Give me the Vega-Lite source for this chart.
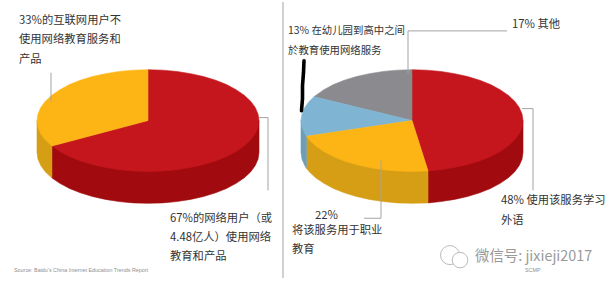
{"$schema":"https://vega.github.io/schema/vega-lite/v6.json","width":612,"height":285,"autosize":{"type":"fit","contains":"padding"},"padding":0,"background":"white","view":{"stroke":null},"config":{"view":{"stroke":null}},
"datasets":{
"shapes":[
{"s":"L wall red","i":0,"x":259,"y":120},{"s":"L wall red","i":1,"x":259,"y":152},{"s":"L wall red","i":2,"x":258,"y":158.7},{"s":"L wall red","i":3,"x":255.2,"y":165.2},{"s":"L wall red","i":4,"x":250.6,"y":171.5},{"s":"L wall red","i":5,"x":244.1,"y":177.5},{"s":"L wall red","i":6,"x":236.1,"y":183},{"s":"L wall red","i":7,"x":226.5,"y":188.1},{"s":"L wall red","i":8,"x":215.6,"y":192.5},{"s":"L wall red","i":9,"x":203.5,"y":196.2},{"s":"L wall red","i":10,"x":190.5,"y":199.1},{"s":"L wall red","i":11,"x":176.7,"y":201.3},{"s":"L wall red","i":12,"x":162.5,"y":202.6},{"s":"L wall red","i":13,"x":148,"y":203},{"s":"L wall red","i":14,"x":133.5,"y":202.6},{"s":"L wall red","i":15,"x":119.3,"y":201.3},{"s":"L wall red","i":16,"x":105.5,"y":199.1},{"s":"L wall red","i":17,"x":92.5,"y":196.2},{"s":"L wall red","i":18,"x":80.4,"y":192.5},{"s":"L wall red","i":19,"x":69.5,"y":188.1},{"s":"L wall red","i":20,"x":59.9,"y":183},{"s":"L wall red","i":21,"x":51.9,"y":177.5},{"s":"L wall red","i":22,"x":51.9,"y":145.5},
{"s":"L wall orange","i":0,"x":37,"y":120},{"s":"L wall orange","i":1,"x":37,"y":152},{"s":"L wall orange","i":2,"x":38,"y":158.7},{"s":"L wall orange","i":3,"x":40.8,"y":165.2},{"s":"L wall orange","i":4,"x":45.4,"y":171.5},{"s":"L wall orange","i":5,"x":51.9,"y":177.5},{"s":"L wall orange","i":6,"x":51.9,"y":145.5},
{"s":"L top red","i":0,"x":259,"y":120},{"s":"L top red","i":1,"x":258,"y":126.7},{"s":"L top red","i":2,"x":255.2,"y":133.2},{"s":"L top red","i":3,"x":250.6,"y":139.5},{"s":"L top red","i":4,"x":244.1,"y":145.5},{"s":"L top red","i":5,"x":236.1,"y":151},{"s":"L top red","i":6,"x":226.5,"y":156.1},{"s":"L top red","i":7,"x":215.6,"y":160.5},{"s":"L top red","i":8,"x":203.5,"y":164.2},{"s":"L top red","i":9,"x":190.5,"y":167.1},{"s":"L top red","i":10,"x":176.7,"y":169.3},{"s":"L top red","i":11,"x":162.5,"y":170.6},{"s":"L top red","i":12,"x":148,"y":171},{"s":"L top red","i":13,"x":133.5,"y":170.6},{"s":"L top red","i":14,"x":119.3,"y":169.3},{"s":"L top red","i":15,"x":105.5,"y":167.1},{"s":"L top red","i":16,"x":92.5,"y":164.2},{"s":"L top red","i":17,"x":80.4,"y":160.5},{"s":"L top red","i":18,"x":69.5,"y":156.1},{"s":"L top red","i":19,"x":59.9,"y":151},{"s":"L top red","i":20,"x":51.9,"y":145.5},{"s":"L top red","i":21,"x":148,"y":120},{"s":"L top red","i":22,"x":148,"y":69},{"s":"L top red","i":23,"x":162.5,"y":69.4},{"s":"L top red","i":24,"x":176.7,"y":70.7},{"s":"L top red","i":25,"x":190.5,"y":72.9},{"s":"L top red","i":26,"x":203.5,"y":75.8},{"s":"L top red","i":27,"x":215.6,"y":79.5},{"s":"L top red","i":28,"x":226.5,"y":83.9},{"s":"L top red","i":29,"x":236.1,"y":89},{"s":"L top red","i":30,"x":244.1,"y":94.5},{"s":"L top red","i":31,"x":250.6,"y":100.5},{"s":"L top red","i":32,"x":255.2,"y":106.8},{"s":"L top red","i":33,"x":258,"y":113.3},
{"s":"L top orange","i":0,"x":148,"y":120},{"s":"L top orange","i":1,"x":148,"y":69},{"s":"L top orange","i":2,"x":133.5,"y":69.4},{"s":"L top orange","i":3,"x":119.3,"y":70.7},{"s":"L top orange","i":4,"x":105.5,"y":72.9},{"s":"L top orange","i":5,"x":92.5,"y":75.8},{"s":"L top orange","i":6,"x":80.4,"y":79.5},{"s":"L top orange","i":7,"x":69.5,"y":83.9},{"s":"L top orange","i":8,"x":59.9,"y":89},{"s":"L top orange","i":9,"x":51.9,"y":94.5},{"s":"L top orange","i":10,"x":45.4,"y":100.5},{"s":"L top orange","i":11,"x":40.8,"y":106.8},{"s":"L top orange","i":12,"x":38,"y":113.3},{"s":"L top orange","i":13,"x":37,"y":120},{"s":"L top orange","i":14,"x":38,"y":126.7},{"s":"L top orange","i":15,"x":40.8,"y":133.2},{"s":"L top orange","i":16,"x":45.4,"y":139.5},{"s":"L top orange","i":17,"x":51.9,"y":145.5},
{"s":"R wall red","i":0,"x":523,"y":120},{"s":"R wall red","i":1,"x":523,"y":152},{"s":"R wall red","i":2,"x":522,"y":158.7},{"s":"R wall red","i":3,"x":519.2,"y":165.2},{"s":"R wall red","i":4,"x":514.6,"y":171.5},{"s":"R wall red","i":5,"x":508.1,"y":177.5},{"s":"R wall red","i":6,"x":500.1,"y":183},{"s":"R wall red","i":7,"x":490.5,"y":188.1},{"s":"R wall red","i":8,"x":479.6,"y":192.5},{"s":"R wall red","i":9,"x":467.5,"y":196.2},{"s":"R wall red","i":10,"x":454.5,"y":199.1},{"s":"R wall red","i":11,"x":440.7,"y":201.3},{"s":"R wall red","i":12,"x":428,"y":202.6},{"s":"R wall red","i":13,"x":428,"y":170.5},
{"s":"R wall orange","i":0,"x":428,"y":170.5},{"s":"R wall orange","i":1,"x":428,"y":202.6},{"s":"R wall orange","i":2,"x":412,"y":203},{"s":"R wall orange","i":3,"x":397.5,"y":202.6},{"s":"R wall orange","i":4,"x":383.3,"y":201.3},{"s":"R wall orange","i":5,"x":369.5,"y":199.1},{"s":"R wall orange","i":6,"x":356.5,"y":196.2},{"s":"R wall orange","i":7,"x":344.4,"y":192.5},{"s":"R wall orange","i":8,"x":333.5,"y":188.1},{"s":"R wall orange","i":9,"x":323.9,"y":183},{"s":"R wall orange","i":10,"x":315.9,"y":177.5},{"s":"R wall orange","i":11,"x":309.4,"y":171.5},{"s":"R wall orange","i":12,"x":306.4,"y":167.8},{"s":"R wall orange","i":13,"x":306.4,"y":135.8},
{"s":"R wall blue","i":0,"x":301,"y":120},{"s":"R wall blue","i":1,"x":301,"y":152},{"s":"R wall blue","i":2,"x":302,"y":158.7},{"s":"R wall blue","i":3,"x":304.8,"y":165.2},{"s":"R wall blue","i":4,"x":306.4,"y":167.8},{"s":"R wall blue","i":5,"x":306.4,"y":135.8},
{"s":"R top red","i":0,"x":412,"y":120},{"s":"R top red","i":1,"x":412,"y":69},{"s":"R top red","i":2,"x":426.5,"y":69.4},{"s":"R top red","i":3,"x":440.7,"y":70.7},{"s":"R top red","i":4,"x":454.5,"y":72.9},{"s":"R top red","i":5,"x":467.5,"y":75.8},{"s":"R top red","i":6,"x":479.6,"y":79.5},{"s":"R top red","i":7,"x":490.5,"y":83.9},{"s":"R top red","i":8,"x":500.1,"y":89},{"s":"R top red","i":9,"x":508.1,"y":94.5},{"s":"R top red","i":10,"x":514.6,"y":100.5},{"s":"R top red","i":11,"x":519.2,"y":106.8},{"s":"R top red","i":12,"x":522,"y":113.3},{"s":"R top red","i":13,"x":523,"y":120},{"s":"R top red","i":14,"x":522,"y":126.7},{"s":"R top red","i":15,"x":519.2,"y":133.2},{"s":"R top red","i":16,"x":514.6,"y":139.5},{"s":"R top red","i":17,"x":508.1,"y":145.5},{"s":"R top red","i":18,"x":500.1,"y":151},{"s":"R top red","i":19,"x":490.5,"y":156.1},{"s":"R top red","i":20,"x":479.6,"y":160.5},{"s":"R top red","i":21,"x":467.5,"y":164.2},{"s":"R top red","i":22,"x":454.5,"y":167.1},{"s":"R top red","i":23,"x":440.7,"y":169.3},{"s":"R top red","i":24,"x":428,"y":170.5},
{"s":"R top gray","i":0,"x":412,"y":120},{"s":"R top gray","i":1,"x":412,"y":69},{"s":"R top gray","i":2,"x":397.5,"y":69.4},{"s":"R top gray","i":3,"x":383.3,"y":70.7},{"s":"R top gray","i":4,"x":369.5,"y":72.9},{"s":"R top gray","i":5,"x":356.5,"y":75.8},{"s":"R top gray","i":6,"x":344.4,"y":79.5},{"s":"R top gray","i":7,"x":333.5,"y":83.9},{"s":"R top gray","i":8,"x":323.9,"y":89},{"s":"R top gray","i":9,"x":314,"y":96},
{"s":"R top blue","i":0,"x":412,"y":120},{"s":"R top blue","i":1,"x":314,"y":96},{"s":"R top blue","i":2,"x":309.4,"y":100.5},{"s":"R top blue","i":3,"x":304.8,"y":106.8},{"s":"R top blue","i":4,"x":302,"y":113.3},{"s":"R top blue","i":5,"x":301,"y":120},{"s":"R top blue","i":6,"x":302,"y":126.7},{"s":"R top blue","i":7,"x":304.8,"y":133.2},{"s":"R top blue","i":8,"x":306.4,"y":135.8},
{"s":"R top orange","i":0,"x":412,"y":120},{"s":"R top orange","i":1,"x":306.4,"y":135.8},{"s":"R top orange","i":2,"x":309.4,"y":139.5},{"s":"R top orange","i":3,"x":315.9,"y":145.5},{"s":"R top orange","i":4,"x":323.9,"y":151},{"s":"R top orange","i":5,"x":333.5,"y":156.1},{"s":"R top orange","i":6,"x":344.4,"y":160.5},{"s":"R top orange","i":7,"x":356.5,"y":164.2},{"s":"R top orange","i":8,"x":369.5,"y":167.1},{"s":"R top orange","i":9,"x":383.3,"y":169.3},{"s":"R top orange","i":10,"x":397.5,"y":170.6},{"s":"R top orange","i":11,"x":412,"y":171},{"s":"R top orange","i":12,"x":428,"y":170.5}
],
"leaders":[
{"l":"divider","i":0,"x":283,"y":1},{"l":"divider","i":1,"x":283,"y":278},
{"l":"a","i":0,"x":51,"y":72},{"l":"a","i":1,"x":51,"y":101},
{"l":"b","i":0,"x":259,"y":117},{"l":"b","i":1,"x":268,"y":117},{"l":"b","i":2,"x":268,"y":190},
{"l":"c","i":0,"x":507,"y":30},{"l":"c","i":1,"x":408,"y":30},{"l":"c","i":2,"x":408,"y":73},
{"l":"d","i":0,"x":522,"y":108},{"l":"d","i":1,"x":533,"y":108},{"l":"d","i":2,"x":533,"y":190},
{"l":"e","i":0,"x":381,"y":160},{"l":"e","i":1,"x":381,"y":218},{"l":"e","i":2,"x":364,"y":218}
],
"scribble":[{"i":0,"x":304,"y":60},{"i":1,"x":303.5,"y":72},{"i":2,"x":302.5,"y":85},{"i":3,"x":302.5,"y":98},{"i":4,"x":301.5,"y":110}],
"labels":[
{"t":"33%的互联网用户不","x":19,"y":20},{"t":"使用网络教育服务和","x":19,"y":39},{"t":"产品","x":19,"y":59},
{"t":"67%的网络用户（或","x":170,"y":219},{"t":"4.48亿人）使用网络","x":170,"y":238},{"t":"教育和产品","x":170,"y":257},
{"t":"17% 其他","x":512,"y":24},{"t":"48% 使用该服务学习","x":501,"y":201},{"t":"外语","x":501,"y":221},
{"t":"22%","x":315,"y":216},{"t":"将该服务用于职业","x":292,"y":231},{"t":"教育","x":292,"y":250}
],
"labelsSmall":[{"t":"13% 在幼儿园到高中之间","x":288,"y":30},{"t":"於教育使用网络服务","x":288,"y":50}],
"source":[{"t":"Source: Baidu's China Internet Education Trends Report","x":14,"y":270}],
"scmp":[{"t":"SCMP","x":525,"y":270}],
"mark":[{"t":"微信号: jixieji2017","x":475,"y":257}],
"bubbles":[{"x":450,"y":255,"n":150},{"x":460,"y":260,"n":100}]
},
"encoding":{"x":{"field":"x","type":"quantitative","scale":{"domain":[0,612],"nice":false,"zero":false},"axis":null},"y":{"field":"y","type":"quantitative","scale":{"domain":[285,0],"nice":false,"zero":false},"axis":null}},
"layer":[
{"data":{"name":"shapes"},"mark":{"type":"line","interpolate":"linear-closed","strokeWidth":0.6},"encoding":{"order":{"field":"i","type":"quantitative"},"fill":{"field":"s","type":"nominal","legend":null,"scale":{"domain":["L wall red","L wall orange","L top red","L top orange","R wall red","R wall orange","R wall blue","R top red","R top gray","R top blue","R top orange"],"range":["#a10a0e","#d69e14","#c5161d","#fdb515","#a10a0e","#d69e14","#6d9db8","#c5161d","#8b8a8e","#7fb5d2","#fdb515"]}},"stroke":{"field":"s","type":"nominal","legend":null,"scale":{"domain":["L wall red","L wall orange","L top red","L top orange","R wall red","R wall orange","R wall blue","R top red","R top gray","R top blue","R top orange"],"range":["#a10a0e","#d69e14","#c5161d","#fdb515","#a10a0e","#d69e14","#6d9db8","#c5161d","#8b8a8e","#7fb5d2","#fdb515"]}}}},
{"data":{"name":"leaders"},"mark":{"type":"line","stroke":"#a3a3a3","strokeWidth":1},"encoding":{"detail":{"field":"l"},"order":{"field":"i","type":"quantitative"}}},
{"data":{"name":"scribble"},"mark":{"type":"line","stroke":"#000000","strokeWidth":3.6,"strokeCap":"round"},"encoding":{"order":{"field":"i","type":"quantitative"}}},
{"data":{"name":"labels"},"mark":{"type":"text","align":"left","baseline":"middle","font":"Noto Sans CJK SC","fontSize":11.3,"fill":"#333333"},"encoding":{"text":{"field":"t"}}},
{"data":{"name":"labelsSmall"},"mark":{"type":"text","align":"left","baseline":"middle","font":"Noto Sans CJK SC","fontSize":10.4,"fill":"#333333"},"encoding":{"text":{"field":"t"}}},
{"data":{"name":"source"},"mark":{"type":"text","align":"left","baseline":"middle","font":"Liberation Sans","fontSize":5.4,"fill":"#8f8f8f"},"encoding":{"text":{"field":"t"}}},
{"data":{"name":"scmp"},"mark":{"type":"text","align":"left","baseline":"middle","font":"Liberation Sans","fontSize":5.4,"fill":"#8f8f8f"},"encoding":{"text":{"field":"t"}}},
{"data":{"name":"mark"},"mark":{"type":"text","align":"left","baseline":"middle","font":"Noto Sans CJK SC","fontSize":14.4,"fill":"#9a9a9a"},"encoding":{"text":{"field":"t"}}},
{"data":{"name":"bubbles"},"mark":{"type":"point","shape":"circle","filled":false,"stroke":"#bbbbbb","strokeWidth":1,"fill":"white","fillOpacity":1},"encoding":{"size":{"field":"n","type":"quantitative","legend":null,"scale":{"type":"identity"}}}}
]}
